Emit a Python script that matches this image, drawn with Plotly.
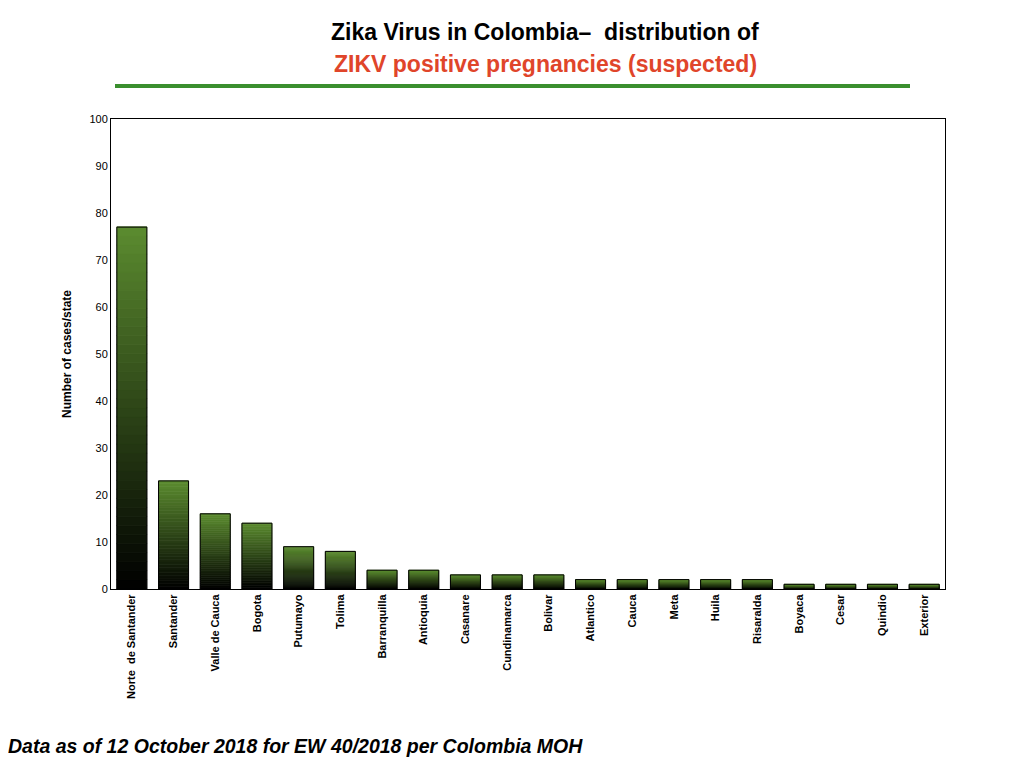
import plotly.graph_objects as go

states = ["Norte  de Santander","Santander","Valle de Cauca","Bogota","Putumayo","Tolima",
          "Barranquilla","Antioquia","Casanare","Cundinamarca","Bolivar","Atlantico","Cauca",
          "Meta","Huila","Risaralda","Boyaca","Cesar","Quindio","Exterior"]
cases = [77,23,16,14,9,8,4,4,3,3,3,2,2,2,2,2,1,1,1,1]
yticks = list(range(0,101,10))

fig = go.Figure()
N = 40
top = (92,140,48)
for k in range(N):
    t = (k+0.5)/N
    col = "rgb(%d,%d,%d)" % tuple(int(c*t) for c in top)
    fig.add_trace(go.Bar(x=states, y=[v/N*1.04 for v in cases], base=[v*k/N for v in cases],
                         marker=dict(color=col, line=dict(width=0.6, color=col)), hoverinfo="skip", showlegend=False))
fig.add_trace(go.Bar(x=states, y=cases, marker=dict(color="rgba(0,0,0,0)", line=dict(color="black", width=1)),
                     showlegend=False))

W, H, L, R, T, B = 1024, 768, 103, 87, 111, 187
fig.update_layout(
    width=W, height=H, barmode="overlay", bargap=0.28,
    paper_bgcolor="white", plot_bgcolor="white",
    margin=dict(l=L, r=R, t=T, b=B),
    font=dict(family="Liberation Sans, Arial", color="black"),
    xaxis=dict(tickangle=-90, tickfont=dict(size=11), tickprefix="<b>", ticksuffix="</b>", showline=True,
               linecolor="black", mirror=True, ticks=""),
    yaxis=dict(range=[0,100], tickvals=yticks, tickfont=dict(size=11, color="black"), tickprefix="<b>", ticksuffix="</b>",
               showline=True, linecolor="black", mirror=True, showgrid=False, ticks="",
               title=dict(text="<b>Number of cases/state</b>", font=dict(size=12))),
    annotations=[
        dict(text="<b>Zika Virus in Colombia– &nbsp;distribution of</b>", x=537, y=24, showarrow=False,
             font=dict(size=23, color="black")),
        dict(text="<b>ZIKV positive pregnancies (suspected)</b>", x=537, y=56, showarrow=False,
             font=dict(size=23, color="#e0452a")),
        dict(text="<b><i>Data as of 12 October 2018 for EW 40/2018 per Colombia MOH</i></b>", x=-2, y=738,
             xanchor="left", showarrow=False, font=dict(size=19.5, color="black")),
    ],
    shapes=[dict(type="line", x0=107, x1=902, y0=78, y1=78, line=dict(color="#3a8f2e", width=4))],
)
pw, ph = W-L-R, H-T-B
def px(x): return (x-L)/pw
def py(y): return (H-B-y)/ph
for a in fig.layout.annotations:
    a.update(x=px(a.x), y=py(a.y), xref="paper", yref="paper", yanchor="middle")
for s in fig.layout.shapes:
    s.update(xref="paper", yref="paper", x0=px(s.x0), x1=px(s.x1), y0=py(s.y0), y1=py(s.y1))
fig.write_html("out.html")
